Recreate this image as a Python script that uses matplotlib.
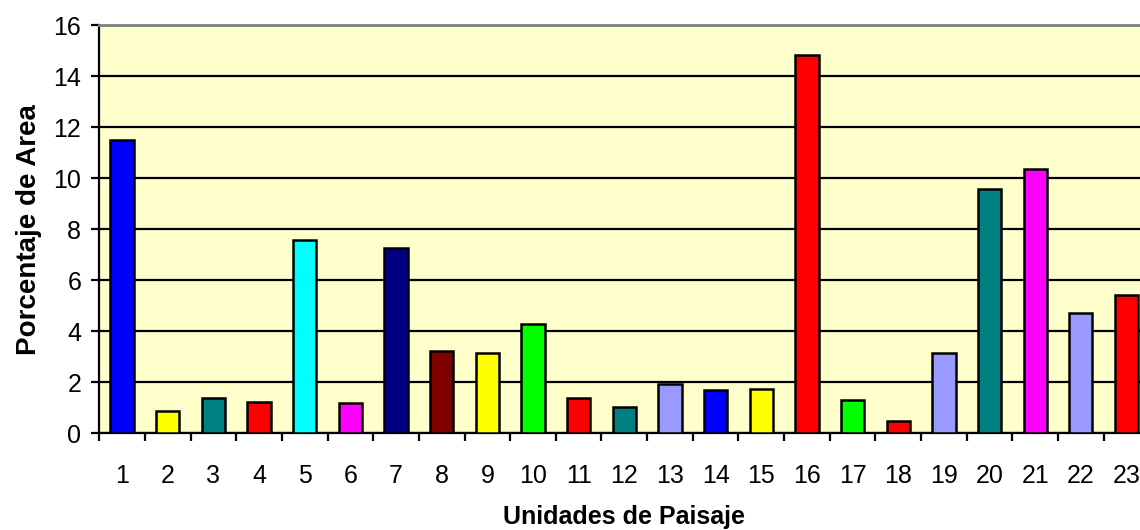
import matplotlib.pyplot as plt

# Datos
unidades = [str(i) for i in range(1, 24)]
porcentaje = [11.5, 0.88, 1.4, 1.23, 7.57, 1.18, 7.27, 3.22, 3.16, 4.3, 1.37, 1.05,
              1.92, 1.7, 1.73, 14.82, 1.31, 0.48, 3.14, 9.58, 10.38, 4.71, 5.44]
colores = ['#0000FF', '#FFFF00', '#008080', '#FF0000', '#00FFFF', '#FF00FF', '#000080',
           '#800000', '#FFFF00', '#00FF00', '#FF0000', '#008080', '#9999FF', '#0000FF',
           '#FFFF00', '#FF0000', '#00FF00', '#FF0000', '#9999FF', '#008080', '#FF00FF',
           '#9999FF', '#FF0000']
y_ticks = [0, 2, 4, 6, 8, 10, 12, 14, 16]

plt.rcParams['font.family'] = ['Liberation Sans', 'DejaVu Sans']

fig = plt.figure(figsize=(11.4, 5.3), dpi=100)
ax = fig.add_axes([99.3 / 1140, 1 - 433.3 / 530, 1050 / 1140, 408 / 530])
ax.set_facecolor('#FFFFCC')

x = list(range(1, 24))
ax.bar(x, porcentaje, width=0.51, color=colores, edgecolor='black', linewidth=1.8, zorder=3)

ax.set_xlim(0.5, 23.5)
ax.set_ylim(0, 16)
ax.set_yticks(y_ticks)
ax.yaxis.grid(True, color='black', linewidth=1.6, zorder=1)
ax.set_axisbelow(True)

# marcas del eje x en los límites de las categorías
ax.set_xticks([i + 0.5 for i in range(0, 24)], minor=False)
ax.set_xticklabels([])
ax.set_xticks(x, minor=True)
ax.set_xticklabels(unidades, minor=True)
ax.tick_params(axis='x', which='major', direction='out', length=6, width=1.6)
ax.tick_params(axis='x', which='minor', length=0, pad=22, labelsize=18)
ax.tick_params(axis='y', direction='out', length=6, width=1.6, pad=7, labelsize=18)

ax.spines['top'].set_color('#808080')
ax.spines['top'].set_linewidth(2)
ax.spines['right'].set_visible(False)
ax.spines['left'].set_linewidth(1.6)
ax.spines['bottom'].set_linewidth(1.6)

ax.set_xlabel('Unidades de Paisaje', fontsize=18, fontweight='bold', labelpad=12)
ax.set_ylabel('Porcentaje de Area', fontsize=20, fontweight='bold', labelpad=8)

plt.savefig('out.png', dpi=100)
